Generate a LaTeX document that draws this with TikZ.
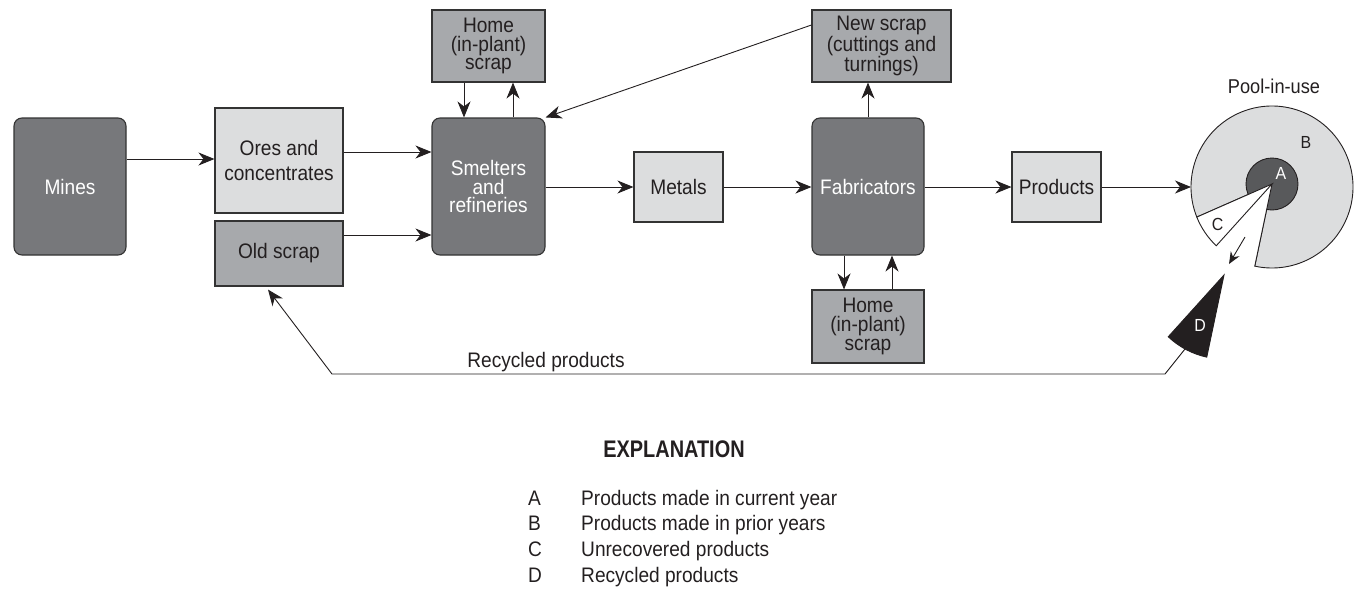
\documentclass[tikz,border=0pt]{standalone}
\usepackage{fontspec}
\setmainfont[FakeStretch=0.91]{Liberation Sans}
\newfontfamily\expfamily[FakeStretch=0.83]{Liberation Sans}
\usetikzlibrary{arrows.meta,calc}
\definecolor{dk}{HTML}{77787B}
\definecolor{lt}{HTML}{DCDDDE}
\definecolor{md}{HTML}{A7A9AC}
\definecolor{ac}{HTML}{58595B}
\definecolor{bd}{HTML}{333333}
\definecolor{ink}{HTML}{231F20}
\newcommand\lblfont{\fontsize{21}{18.7}\selectfont}
\newcommand\smfont{\fontsize{21}{22}\selectfont}
\newcommand\letfont{\fontsize{17.5}{18}\selectfont}
\tikzset{
 box/.style={draw=bd, line width=1.1pt, inner sep=0pt, align=center, font=\lblfont, text=ink},
 dkbox/.style={box, fill=dk, rounded corners=8pt, text=white},
 ltbox/.style={box, fill=lt},
 mdbox/.style={box, fill=md},
 arr/.style={-{Stealth[length=16pt,width=13pt,inset=5pt]}, line width=0.9pt, draw=ink},
 sarr/.style={-{Stealth[length=12pt,width=10pt,inset=4pt]}, line width=0.9pt, draw=ink},
 txt/.style={inner sep=0pt, font=\smfont, text=ink, anchor=base},
 ltxt/.style={inner sep=0pt, font=\letfont, text=ink, anchor=base},
 wedge/.style={draw=ink, line width=0.9pt},
}
\begin{document}
\begin{tikzpicture}[x=1pt,y=-1pt]
\useasboundingbox (0,0) rectangle (1359,590);

% boxes
\node[dkbox, minimum width=112pt, minimum height=137pt] (mines) at (70,186.5) {Mines};
\node[ltbox, minimum width=128pt, minimum height=105pt] (ores) at (279,160.5) {Ores and\\[6.3pt]concentrates};
\node[mdbox, minimum width=128pt, minimum height=65pt] (old) at (279,253.5) {Old scrap};
\node[dkbox, minimum width=113pt, minimum height=137pt] (smelt) at (488.5,186.5) {Smelters\\and\\refineries};
\node[mdbox, minimum width=113pt, minimum height=72pt] (home1) at (488.5,46) {Home\\(in-plant)\\scrap};
\node[ltbox, minimum width=89pt, minimum height=70pt] (metals) at (678.5,187) {Metals};
\node[dkbox, minimum width=112pt, minimum height=137pt] (fab) at (868,186.5) {Fabricators};
\node[mdbox, minimum width=139pt, minimum height=72pt] (news) at (881.5,46) {New scrap\\(cuttings and\\turnings)};
\node[mdbox, minimum width=112pt, minimum height=73pt] (home2) at (868,326.5) {Home\\(in-plant)\\scrap};
\node[ltbox, minimum width=89pt, minimum height=70pt] (prod) at (1056.5,187) {Products};

% pool-in-use geometry
\coordinate (oc) at (1272,187);
\coordinate (apex) at (1272,184);
\coordinate (poolw) at (1191,187);
\coordinate (dapex) at ($(apex)+(-48,91)$);
\coordinate (doc) at ($(oc)+(-48,91)$);

% B region
\filldraw[wedge, fill=lt] (apex) -- ($(oc)+(158.2:81)$) arc[start angle=158.2, end angle=462.3, radius=81] -- cycle;
% A disc
\filldraw[wedge, fill=ac] (apex) circle[radius=26];
% gap (removed wedge)
\fill[white] (apex) -- ($(oc)+(102.3:81)$) arc[start angle=102.3, end angle=133.5, radius=81] -- cycle;
% C wedge
\filldraw[wedge, fill=white] (apex) -- ($(oc)+(133.5:81)$) arc[start angle=133.5, end angle=158.2, radius=81] -- cycle;
\draw[wedge] (apex) -- ($(oc)+(102.3:81)$);
% D wedge (moved out)
\filldraw[wedge, fill=ink] (dapex) -- ($(doc)+(102.3:81)$) arc[start angle=102.3, end angle=133.5, radius=81] -- cycle;

% pool labels
\node[txt, font=\fontsize{20}{20}\selectfont] (poollbl) at (1274,93) {Pool-in-use};
\node[ltxt] (lB) at (1306,148) {B};
\node[ltxt, text=white] (lA) at (1281,179) {A};
\node[ltxt] (lC) at (1217.5,230) {C};
\node[ltxt, text=white] (lD) at (1200,331) {D};

% connectors
\draw[arr] (mines.east |- 0,159) -- (ores.west |- 0,159);
\draw[arr] (ores.east |- 0,152) -- (smelt.west |- 0,152);
\draw[arr] (old.east |- 0,235) -- (smelt.west |- 0,235);
\draw[arr] (home1.south -| 464,0) -- (smelt.north -| 464,0);
\draw[arr] (smelt.north -| 513,0) -- (home1.south -| 513,0);
\draw[arr] (news.west |- 0,25) -- (smelt.north east);
\draw[arr] (smelt.east |- 0,187) -- (metals.west);
\draw[arr] (metals.east) -- (fab.west |- 0,187);
\draw[arr] (fab.east |- 0,187) -- (prod.west);
\draw[arr] (prod.east) -- (poolw);
\draw[arr] (fab.north) -- (news.south -| fab.north);
\draw[arr] (fab.south -| 844,0) -- (home2.north -| 844,0);
\draw[arr] (home2.north -| 892,0) -- (fab.south -| 892,0);

\coordinate (ps) at (1245,237);
\coordinate (pt) at (1229,264);
\draw[sarr] (ps) -- (pt);

\coordinate (dlow) at (1185,349);
\coordinate (r1) at (1165,374);
\coordinate (r2) at (332,374);
\draw[arr] (dlow) -- (r1) -- (r2) -- ([shift={(-11,3)}]old.south);
\node[txt] (reclbl) at (546,367) {Recycled products};

% explanation
\node[inner sep=0pt, anchor=base, text=ink, font=\expfamily\bfseries\fontsize{24}{24}\selectfont] (expl) at (674,457) {EXPLANATION};
\node[txt, anchor=base west] (kA) at (528,505) {A};
\node[txt, anchor=base west] (kB) at (528,530) {B};
\node[txt, anchor=base west] (kC) at (528,556) {C};
\node[txt, anchor=base west] (kD) at (528,582) {D};
\node[txt, anchor=base west] (tA) at (581,505) {Products made in current year};
\node[txt, anchor=base west] (tB) at (581,530) {Products made in prior years};
\node[txt, anchor=base west] (tC) at (581,556) {Unrecovered products};
\node[txt, anchor=base west] (tD) at (581,582) {Recycled products};
\end{tikzpicture}
\end{document}
